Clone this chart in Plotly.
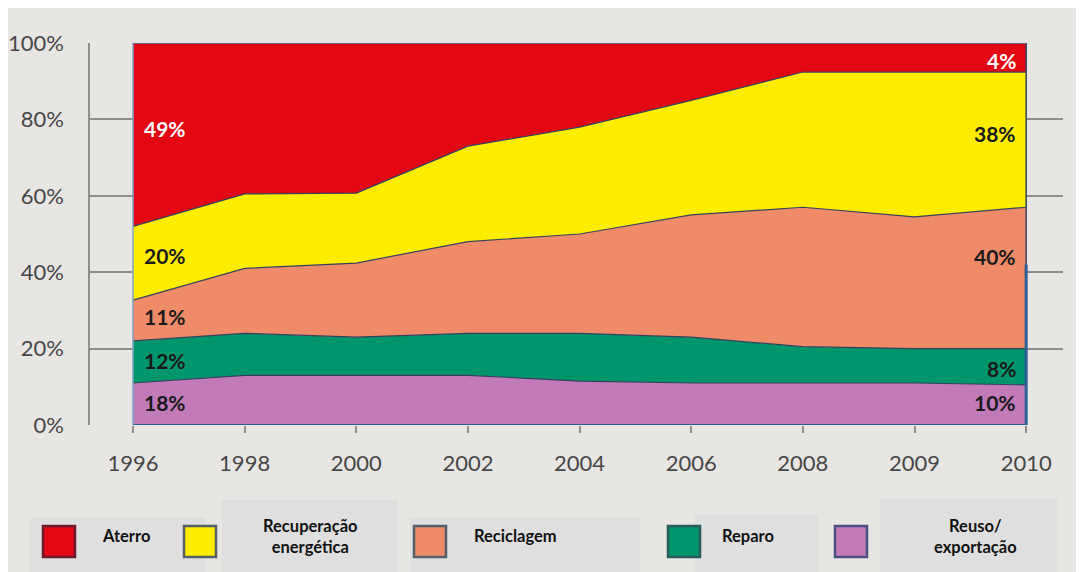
import plotly.graph_objects as go

# ---- data (percent shares) ----
years = ["1996", "1998", "2000", "2002", "2004", "2006", "2008", "2009", "2010"]
reuso = [11.0, 13.0, 13.0, 13.0, 11.5, 11.0, 11.0, 11.0, 10.5]
reparo = [11.0, 11.0, 10.0, 11.0, 12.5, 12.0, 9.5, 9.0, 9.5]
reciclagem = [10.7, 17.0, 19.4, 24.0, 26.0, 32.0, 36.5, 34.5, 37.0]
recuperacao = [19.3, 19.5, 18.3, 25.0, 28.0, 30.0, 35.4, 37.9, 35.4]
aterro = [48.0, 39.5, 39.3, 27.0, 22.0, 15.0, 7.6, 7.6, 7.6]

series_names = ["Reuso/ exportação", "Reparo", "Reciclagem", "Recuperação energética", "Aterro"]
series_values = [reuso, reparo, reciclagem, recuperacao, aterro]
series_colors = ["#c27ab8", "#00956a", "#f08b69", "#ffed00", "#e30613"]

# labels printed on the chart
left_labels = ["18%", "12%", "11%", "20%", "49%"]
left_label_y = [5.8, 17.0, 28.3, 44.5, 77.7]
right_labels = ["10%", "8%", "40%", "38%", "4%"]
right_label_y = [5.8, 14.9, 44.2, 76.4, 95.3]
label_colors = ["#1a1a1a", "#1a1a1a", "#1a1a1a", "#1a1a1a", "#ffffff"]

BG = "#e8e6e3"
GRID = "#8e8e8e"
EDGE = "#34415e"

fig = go.Figure()
for name, vals, col in zip(series_names, series_values, series_colors):
    fig.add_trace(go.Scatter(
        x=years, y=vals, name=name, stackgroup="one", mode="lines",
        line=dict(width=1.2, color=EDGE), fillcolor=col, showlegend=False,
        hoverinfo="x+y+name"))

# ---- layout geometry in pixels (page body has an 8px margin) ----
OFF = 8
W, H = 1084 - OFF, 572 - OFF
L, T = 90 - OFF, 43 - OFF
R = W - (1063 - OFF)
B = H - (425 - OFF)
pw, ph = W - L - R, H - T - B


def px(x):
    return (x - OFF - L) / pw


def py(y):
    return (H - B - (y - OFF)) / ph


LABEL_FONT = "Lato, 'Open Sans', sans-serif"

annotations = []
for txt, yv, c in zip(left_labels, left_label_y, label_colors):
    annotations.append(dict(x=0, y=yv, xref="x", yref="y", text="<b>%s</b>" % txt,
                            showarrow=False, xanchor="left", xshift=9,
                            font=dict(family=LABEL_FONT, size=21, color=c)))
for txt, yv, c in zip(right_labels, right_label_y, label_colors):
    annotations.append(dict(x=8, y=yv, xref="x", yref="y", text="<b>%s</b>" % txt,
                            showarrow=False, xanchor="right", xshift=-8,
                            font=dict(family=LABEL_FONT, size=21, color=c)))

shapes = []
# light legend boxes
for x0, y0, x1, y1 in [(30, 518, 205, 572), (222, 500, 398, 572), (410, 518, 640, 572),
                       (695, 515, 818, 572), (880, 498, 1057, 572)]:
    shapes.append(dict(type="rect", xref="paper", yref="paper", x0=px(x0), x1=px(x1),
                       y0=py(y1), y1=py(y0), line=dict(width=0), fillcolor="#dfdfdf",
                       layer="below"))

# legend squares
legend_items = [
    (43, "Aterro", 100, "left", series_colors[4], "#6b1a2a"),
    (184, "Recuperação<br>energética", 310, "center", series_colors[3], "#56606a"),
    (414, "Reciclagem", 472, "left", series_colors[2], "#56606a"),
    (668, "Reparo", 720, "left", series_colors[1], "#2a5a5a"),
    (835, "Reuso/<br>exportação", 975, "center", series_colors[0], "#4a5080"),
]
for sx, txt, tx, anchor, fc, lc in legend_items:
    shapes.append(dict(type="rect", xref="paper", yref="paper", x0=px(sx), x1=px(sx + 32),
                       y0=py(557), y1=py(526), fillcolor=fc, line=dict(color=lc, width=2.5)))
    annotations.append(dict(x=px(tx), y=py(536), xref="paper", yref="paper",
                            text="<b>%s</b>" % txt, showarrow=False, xanchor=anchor,
                            yanchor="middle", align="center",
                            font=dict(family="Lato, 'Open Sans', sans-serif", size=16.5,
                                      color="#111111")))

# outlines of the area block
shapes.append(dict(type="line", xref="x", yref="y", x0=0, x1=0, y0=0, y1=100,
                   line=dict(color="#7fa6c9", width=1.5)))
shapes.append(dict(type="line", xref="x", yref="y", x0=8, x1=8, y0=0, y1=100,
                   line=dict(color=EDGE, width=1.5)))
shapes.append(dict(type="line", xref="x", yref="y", x0=8, x1=8, y0=0, y1=42,
                   line=dict(color="#2d5f95", width=3)))
shapes.append(dict(type="line", xref="x", yref="y", x0=0, x1=8, y0=0, y1=0,
                   line=dict(color="#2d5f95", width=2)))
shapes.append(dict(type="line", xref="x", yref="y", x0=0, x1=8, y0=100, y1=100,
                   line=dict(color="#5f7fa6", width=1.5)))

fig.update_layout(
    width=W, height=H,
    margin=dict(l=L, r=R, t=T, b=B, autoexpand=False),
    paper_bgcolor=BG, plot_bgcolor=BG,
    showlegend=False,
    annotations=annotations,
    shapes=shapes,
    xaxis=dict(type="category", range=[-0.385, 8.33], showgrid=False, zeroline=False,
               showline=False, ticks="outside", ticklen=7, tickwidth=1.5, tickcolor=GRID,
               tickfont=dict(family=LABEL_FONT, size=22, color="#474747"),
               ticklabelstandoff=12, automargin=False),
    yaxis=dict(range=[0, 100], dtick=20, ticksuffix="%", showgrid=True, gridcolor=GRID,
               gridwidth=1.5, zeroline=False, showline=True, linecolor=GRID, linewidth=1.5,
               ticks="", tickfont=dict(family=LABEL_FONT, size=22, color="#474747"),
               ticklabelstandoff=20, automargin=False),
)

fig.write_html("out.html")
